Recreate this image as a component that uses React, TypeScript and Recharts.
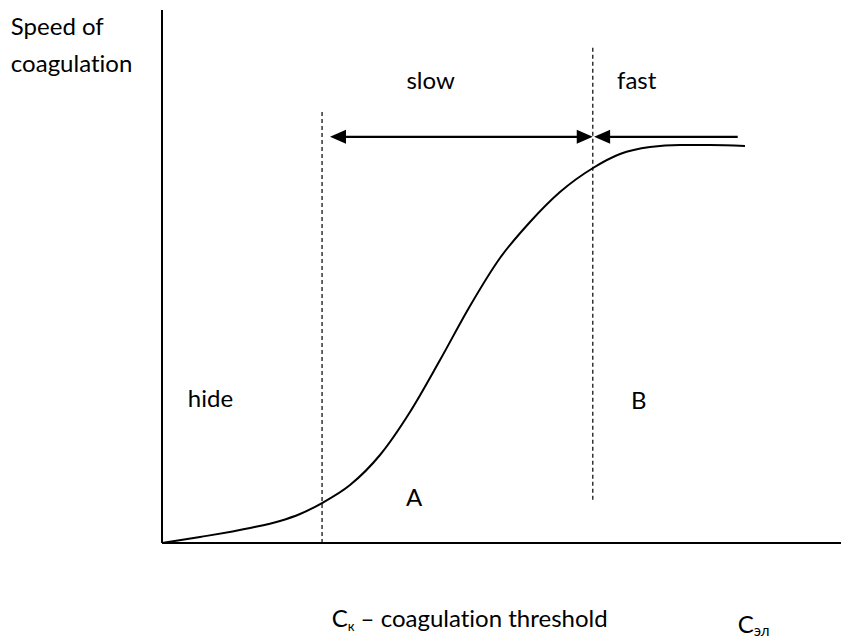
import React from 'react';
import { LineChart, Line, XAxis, YAxis, ReferenceLine, ReferenceDot } from 'recharts';

// Electrolyte concentration (arbitrary units, 0-100) and speed of coagulation (arbitrary units, 0-100)
const curveX = [0, 5.53, 12.81, 17.18, 20.09, 23.29, 27.37, 31.73, 36.10, 40.47, 44.83, 49.20, 53.57, 57.93, 62.74, 66.67, 71.03, 75.40, 79.77, 84.86];
const curveY = [0, 1.13, 2.81, 4.13, 5.44, 7.50, 10.88, 16.51, 24.58, 34.33, 44.47, 53.47, 60.23, 65.85, 70.36, 72.98, 74.30, 74.67, 74.67, 74.48];

// vertical dashed boundaries: x, yBottom, yTop
const boundaryX = [23.3, 62.7];
const boundaryBottom = [0, 8.1];
const boundaryTop = [80.9, 93.4];

// arrows: from, to, y, heads
const arrowFrom = [24.45, 83.8];
const arrowTo = [62.7, 62.9];
const arrowY = [76.2, 76.2];
const arrowHeadStart = [true, false];

// in-plot labels (centered at baseline)
const labelText = ['slow', 'fast', 'hide', 'B', 'A'];
const labelX = [39.1, 69.1, 7.06, 69.4, 36.7];
const labelY = [85.2, 85.2, 25.5, 25.1, 6.9];

const FONT = 'Lato, "Open Sans", sans-serif';
const TXT: React.CSSProperties = { fontVariantLigatures: 'none', fontFeatureSettings: '"liga" 0, "clig" 0' };

const data = curveX.map((x, i) => ({ x, y: curveY[i] }));

const Arrow = (props: any) => {
  const { x1, y1, x2, y2, headStart } = props;
  const L = 16;
  const H = 7;
  const dir = x2 > x1 ? 1 : -1;
  const head = (tx: number, ty: number, d: number) => (
    <polygon points={`${tx},${ty} ${tx - d * L},${ty - H} ${tx - d * L},${ty + H}`} fill="#000" />
  );
  const sx = headStart ? x1 + dir * (L - 2) : x1;
  const ex = x2 - dir * (L - 2);
  return (
    <g>
      <line x1={sx} y1={y1} x2={ex} y2={y2} stroke="#000" strokeWidth={2.2} />
      {headStart ? head(x1, y1, -dir) : null}
      {head(x2, y2, dir)}
    </g>
  );
};

const TextMark = (props: any) => {
  const { cx, cy, text } = props;
  return (
    <text x={cx} y={cy} textAnchor="middle" fontFamily={FONT} fontSize={24} fill="#000" style={TXT}>
      {text}
    </text>
  );
};

const YTitle = (props: any) => {
  const { cx, cy } = props;
  return (
    <text x={cx} y={cy} fontFamily={FONT} fontSize={24} fill="#000" style={TXT}>
      <tspan x={cx}>Speed of</tspan>
      <tspan x={cx} dy={37}>coagulation</tspan>
    </text>
  );
};

const ThresholdTitle = (props: any) => {
  const { cx, cy } = props;
  return (
    <text x={cx} y={cy} fontFamily={FONT} fontSize={24} fill="#000" style={TXT}>
      <tspan>C</tspan>
      <tspan fontSize={13} dy={4}>к</tspan>
      <tspan dy={-4}> – coagulation threshold</tspan>
    </text>
  );
};

const ElTitle = (props: any) => {
  const { cx, cy } = props;
  return (
    <text x={cx} y={cy} fontFamily={FONT} fontSize={24} fill="#000" style={TXT}>
      <tspan>C</tspan>
      <tspan fontSize={15} dy={3}>эл</tspan>
    </text>
  );
};

export default function App() {
  return (
    <LineChart
      width={841}
      height={632}
      data={data}
      margin={{ top: 2, right: 0, left: 94, bottom: 67 }}
    >
      <XAxis
        dataKey="x"
        type="number"
        domain={[0, 100]}
        allowDataOverflow
        tick={false}
        tickLine={false}
        height={30}
        axisLine={{ stroke: '#000', strokeWidth: 2 }}
      />
      <YAxis
        type="number"
        domain={[0, 100]}
        allowDataOverflow
        tick={false}
        tickLine={false}
        width={60}
        axisLine={{ stroke: '#000', strokeWidth: 2 }}
      />
      {boundaryX.map((bx, i) => (
        <ReferenceLine
          key={`b${i}`}
          segment={[{ x: bx, y: boundaryBottom[i] }, { x: bx, y: boundaryTop[i] }]}
          stroke="#333"
          strokeWidth={1.5}
          strokeDasharray="4 3"
          ifOverflow="visible"
        />
      ))}
      <Line
        type="monotone"
        dataKey="y"
        stroke="#000"
        strokeWidth={2}
        dot={false}
        activeDot={false}
        isAnimationActive={false}
      />
      {arrowFrom.map((ax, i) => (
        <ReferenceLine
          key={`a${i}`}
          segment={[{ x: ax, y: arrowY[i] }, { x: arrowTo[i], y: arrowY[i] }]}
          ifOverflow="visible"
          shape={(p: any) => <Arrow {...p} headStart={arrowHeadStart[i]} />}
        />
      ))}
      {labelText.map((t, i) => (
        <ReferenceDot
          key={`l${i}`}
          x={labelX[i]}
          y={labelY[i]}
          r={0}
          ifOverflow="visible"
          shape={(p: any) => <TextMark {...p} text={t} />}
        />
      ))}
      <ReferenceDot x={-22.0} y={95.3} r={0} ifOverflow="visible" shape={(p: any) => <YTitle {...p} />} />
      <ReferenceDot x={24.7} y={-15.8} r={0} ifOverflow="visible" shape={(p: any) => <ThresholdTitle {...p} />} />
      <ReferenceDot x={83.8} y={-16.9} r={0} ifOverflow="visible" shape={(p: any) => <ElTitle {...p} />} />
    </LineChart>
  );
}
